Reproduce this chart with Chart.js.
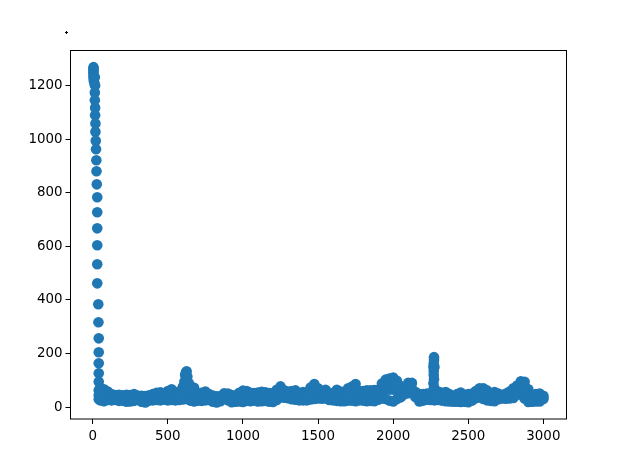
<!DOCTYPE html>
<html>
<head>
<meta charset="utf-8">
<title>scatter</title>
<script src="https://cdn.jsdelivr.net/npm/chart.js@4"></script>
<style>
html,body{margin:0;padding:0;background:#fff}
canvas{display:block}
</style>
</head>
<body>
<canvas id="scatterChart" width="617" height="462"></canvas>
<script>
// steep run at the start of the series
const leadX = [5,5,5,5,5,6,6,8,14,12,16,14,14,16,16,18,18,20,22,24,25,27,30,30,30,30,30,30,37,38,40,40,40,40,40,40];
const leadY = [1268,1262,1255,1248,1240,1232,1225,1215,1230,1205,1200,1173,1145,1117,1089,1058,1027,994,962,921,880,831,783,727,667,604,533,462,384,317,257,205,164,127,95,64];

// band of points along the bottom: upper edge, middle and lower edge read per column
const bandX = [50,75,100,125,150,175,200,225,250,275,300,325,350,375,400,425,450,475,500,525,550,575,600,625,650,675,700,725,750,775,800,825,850,875,900,925,950,975,1000,1025,1050,1075,1100,1125,1150,1175,1200,1225,1250,1275,1300,1325,1350,1375,1400,1425,1450,1475,1500,1525,1550,1575,1600,1625,1650,1675,1700,1725,1750,1775,1800,1825,1850,1875,1900,1925,1950,1975,2000,2025,2050,2075,2100,2125,2150,2175,2200,2225,2250,2275,2300,2325,2350,2375,2400,2425,2450,2475,2500,2525,2550,2575,2600,2625,2650,2675,2700,2725,2750,2775,2800,2825,2850,2875,2900,2925,2950,2975,3000];
const bandTop = [69,67,59,49,46,47,45,47,46,49,44,43,42,45,49,54,56,46,61,67,44,59,77,134,79,73,51,54,59,49,44,41,42,52,51,46,44,54,62,61,54,53,55,58,56,53,53,65,78,63,59,61,63,51,57,55,74,87,71,61,65,54,53,65,59,51,71,77,87,61,61,63,63,64,65,89,103,107,111,99,79,65,91,91,57,49,49,51,53,59,59,54,57,49,41,49,55,47,49,51,61,71,71,63,41,57,51,43,51,59,71,81,97,95,67,47,49,51,43];
const bandMid = [48,45,42,38,36,35,35,34,34,36,35,32,30,35,37,40,41,37,43,46,35,42,50,55,52,47,38,39,42,38,32,30,32,41,38,32,32,38,41,42,38,39,38,40,40,37,36,45,57,50,46,45,45,38,41,40,50,58,52,46,48,40,39,44,41,37,47,50,54,43,43,43,43,43,46,60,66,66,66,65,58,56,72,70,47,35,36,39,40,42,42,39,40,35,31,35,37,34,34,38,47,54,51,44,33,40,40,38,41,45,53,63,76,64,43,34,35,36,37];
const bandLow = [26,23,27,26,27,24,25,21,22,24,27,21,18,25,26,27,26,28,26,27,26,27,29,31,25,22,25,24,26,27,21,18,23,31,26,19,21,22,20,24,23,25,22,23,24,21,20,27,37,36,34,30,28,26,26,26,29,31,33,32,33,27,26,24,23,23,25,25,23,26,25,23,24,23,28,33,31,25,22,31,37,49,53,51,37,22,25,28,27,26,27,25,23,22,21,21,20,21,19,25,34,37,31,26,24,23,30,33,32,33,35,46,57,33,20,21,22,22,31];

// the two tall spikes and the inside of the humps
const fillX = [40,40,615,620,610,630,625,620,640,2272,2272,2270,2268,2275,2270,2270,2272,2268,2272,2268,2275,1950,1975,2000,2025,2850,2875];
const fillY = [45,30,120,130,95,115,95,75,90,187,176,163,150,150,135,120,105,90,75,60,45,85,85,88,82,88,80];

// single small mark above the axes
const strayX = [-181];
const strayY = [1400];

const xTicks = [0,500,1000,1500,2000,2500,3000];
const yTicks = [0,200,400,600,800,1000,1200];

const points = [];
leadX.forEach((x, i) => points.push({x: x, y: leadY[i]}));
bandX.forEach((x, i) => {
  points.push({x: x, y: bandTop[i]});
  points.push({x: x, y: bandMid[i]});
  points.push({x: x, y: bandLow[i]});
});
fillX.forEach((x, i) => points.push({x: x, y: fillY[i]}));

const framePlugin = {
  id: "frame",
  afterDraw(chart) {
    const ctx = chart.ctx;
    const a = chart.chartArea;
    ctx.save();
    ctx.strokeStyle = "#000";
    ctx.lineWidth = 1;
    ctx.strokeRect(a.left, a.top, a.right - a.left, a.bottom - a.top);
    // the stray mark sits outside the chart area, so draw it here
    strayX.forEach((v, i) => {
      const px = Math.round(chart.scales.x.getPixelForValue(v)) + 0.5;
      const py = Math.round(chart.scales.y.getPixelForValue(strayY[i])) + 0.5;
      ctx.beginPath();
      ctx.moveTo(px - 1.5, py);
      ctx.lineTo(px + 1.5, py);
      ctx.moveTo(px, py - 1.5);
      ctx.lineTo(px, py + 1.5);
      ctx.stroke();
    });
    ctx.restore();
  }
};

const tickFont = {family: "'DejaVu Sans'", size: 13.4};
const plainLabel = v => String(v);

new Chart(document.getElementById("scatterChart").getContext("2d"), {
  type: "scatter",
  data: {
    datasets: [{
      data: points,
      backgroundColor: "#1f77b4",
      borderWidth: 0,
      pointRadius: 5.3,
      pointHoverRadius: 5.3
    }]
  },
  options: {
    responsive: false,
    animation: false,
    devicePixelRatio: 1,
    layout: {padding: {left: 0, top: 50.5, right: 50.5, bottom: 0}},
    scales: {
      x: {
        type: "linear",
        min: -148,
        max: 3154,
        afterBuildTicks: s => { s.ticks = xTicks.map(v => ({value: v})); },
        afterFit: s => { s.height = 43; },
        ticks: {color: "#000", font: tickFont, padding: 4, maxRotation: 0, callback: plainLabel},
        grid: {drawOnChartArea: false, drawTicks: true, tickLength: 5, color: "#000"},
        border: {display: false}
      },
      y: {
        type: "linear",
        min: -43.6,
        max: 1330,
        afterBuildTicks: s => { s.ticks = yTicks.map(v => ({value: v})); },
        afterFit: s => { s.width = 70.5; },
        ticks: {color: "#000", font: tickFont, padding: 3, callback: plainLabel},
        grid: {drawOnChartArea: false, drawTicks: true, tickLength: 5, color: "#000"},
        border: {display: false}
      }
    },
    plugins: {
      legend: {display: false},
      tooltip: {enabled: false}
    }
  },
  plugins: [framePlugin]
});
</script>
</body>
</html>
